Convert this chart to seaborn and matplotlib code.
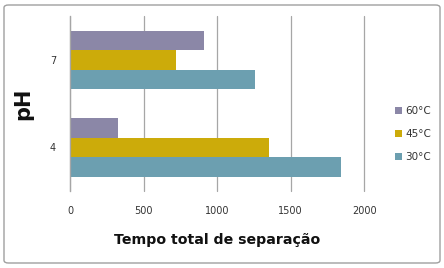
import matplotlib
matplotlib.use("Agg")
import matplotlib.pyplot as plt
import seaborn as sns
import pandas as pd
from matplotlib.patches import FancyBboxPatch

ph_levels = ["7", "4"]
temps = ["60°C", "45°C", "30°C"]
vals_60 = [913, 326]
vals_45 = [718, 1354]
vals_30 = [1257, 1841]
colors = ["#8B87A7", "#CCAB0A", "#6C9FB0"]

rows = []
for t, vals in zip(temps, [vals_60, vals_45, vals_30]):
    for p, v in zip(ph_levels, vals):
        rows.append({"pH": p, "Temp": t, "Tempo": v})
df = pd.DataFrame(rows)

sns.set_style("white")
fig = plt.figure(figsize=(4.44, 2.68), dpi=100)
ax = fig.add_axes([0.1577, 0.2873, 0.8205 - 0.1577, 0.940 - 0.2873])

sns.barplot(data=df, y="pH", x="Tempo", hue="Temp", order=ph_levels,
            hue_order=temps, palette=colors, orient="h", width=0.67,
            saturation=1, linewidth=0, edgecolor="none", ax=ax, legend=True)

ax.set_xlim(0, 2000)
ax.set_ylim(1.5, -0.5)
ax.set_xticks([0, 500, 1000, 1500, 2000])
ax.set_xticklabels(["0", "500", "1000", "1500", "2000"])
ax.xaxis.grid(True, color="#A6A6A6", linewidth=0.9)
for gl in ax.get_xgridlines():
    gl.set_clip_on(False)
ax.set_axisbelow(True)
for s in ["top", "right", "bottom"]:
    ax.spines[s].set_visible(False)
ax.spines["left"].set_color("#A6A6A6")
ax.spines["left"].set_linewidth(0.9)
ax.tick_params(axis="x", length=0, labelsize=7, colors="#333333", pad=11)
ax.tick_params(axis="y", which="major", length=0, labelsize=7, colors="#333333", pad=10)
ax.set_yticks([-0.5, 0.5, 1.5], minor=True)
ax.tick_params(axis="y", which="minor", length=4, color="#A6A6A6", width=0.9, direction="out")

ax.set_xlabel("Tempo total de separação", fontsize=10.2, fontweight="bold", labelpad=12, color="#111111")
ax.set_ylabel("pH", fontsize=15, fontweight="bold", labelpad=12, color="#111111")

leg = ax.legend(loc="center left", bbox_to_anchor=(1.09, 0.326), frameon=False,
                fontsize=7.5, handlelength=0.7, handleheight=0.7, handletextpad=0.3,
                labelspacing=1.25, borderaxespad=0)
for txt in leg.get_texts():
    txt.set_color("#333333")

border = FancyBboxPatch((4 / 444, 5 / 268), 436 / 444, 258 / 268,
                        boxstyle="round,pad=0,rounding_size=0.01",
                        transform=fig.transFigure, fill=False,
                        edgecolor="#A0A0A0", linewidth=1.0)
fig.patches.append(border)

fig.savefig("out.png", dpi=100)
